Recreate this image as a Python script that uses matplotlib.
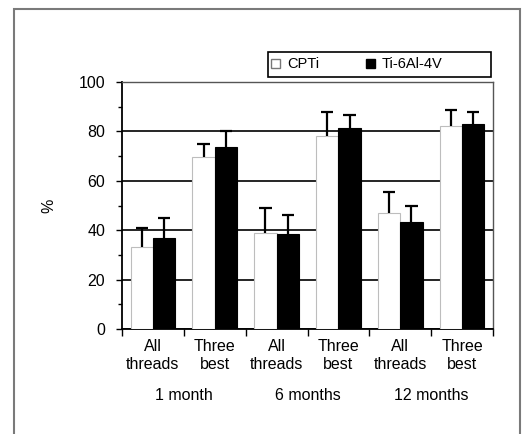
import numpy as np
import matplotlib
matplotlib.use("Agg")
import matplotlib.pyplot as plt
from matplotlib.patches import Rectangle, Patch

plt.rcParams['font.family'] = ['Liberation Sans', 'DejaVu Sans']

# data
categories = ["All\nthreads", "Three\nbest", "All\nthreads", "Three\nbest", "All\nthreads", "Three\nbest"]
periods = ["1 month", "6 months", "12 months"]
cpti = [33, 69.5, 39, 78, 47, 82]
cpti_err = [8, 5.5, 10, 10, 8.5, 6.5]
ti64 = [37, 73.5, 38.5, 81.5, 43.5, 83]
ti64_err = [8, 6.5, 7.5, 5, 6.5, 5]

fs = 11.5

fig = plt.figure(figsize=(5.29, 4.34), dpi=100)

# grey frame around the picture
fig.patches.append(Rectangle((14 / 529, -0.02), (520 - 14) / 529, 1 - 9 / 434 + 0.02,
                             transform=fig.transFigure, fill=False,
                             edgecolor="#7a7a7a", linewidth=1.5))

ax = fig.add_axes([122 / 529, 1 - 329 / 434, (493 - 122) / 529, (329 - 82) / 434])

x = np.arange(len(categories))
w = 0.36
ax.bar(x - w / 2, cpti, w, color="white", edgecolor="#bdbdbd", linewidth=0.8, zorder=3)
ax.bar(x + w / 2, ti64, w, color="black", edgecolor="black", linewidth=0.8, zorder=3)

# upper-only error bars with a cap
cap = 0.1
for xs, vals, errs in [(x - w / 2, cpti, cpti_err), (x + w / 2, ti64, ti64_err)]:
    tops = np.array(vals) + np.array(errs)
    ax.vlines(xs, vals, tops, color="black", linewidth=1.6, zorder=4)
    ax.hlines(tops, xs - cap, xs + cap, color="black", linewidth=1.6, zorder=4)

ax.set_xlim(-0.5, len(categories) - 0.5)
ax.set_ylim(0, 100)
ax.set_yticks([0, 20, 40, 60, 80, 100])
ax.set_yticks(np.arange(10, 100, 20), minor=True)
ax.yaxis.grid(True, color="black", linewidth=1.2, zorder=0)
ax.set_axisbelow(True)

ax.set_xticks(x)
ax.set_xticklabels(categories, fontsize=fs, linespacing=1.3)
ax.tick_params(axis="x", which="major", length=0, pad=7)
ax.set_xticks(np.arange(-0.5, len(categories), 1), minor=True)
ax.tick_params(axis="x", which="minor", length=5, width=1, direction="out")
ax.tick_params(axis="y", which="major", labelsize=fs, length=4, width=1, pad=8)
ax.tick_params(axis="y", which="minor", length=3, width=1)

for s in ["left", "bottom"]:
    ax.spines[s].set_linewidth(1.3)
for s in ["top", "right"]:
    ax.spines[s].set_linewidth(1.0)
    ax.spines[s].set_color("#555555")

for i, p in enumerate(periods):
    ax.text(2 * i + 0.5, -0.27, p, transform=ax.get_xaxis_transform(),
            ha="center", va="center", fontsize=fs)

ax.set_ylabel("%", fontsize=fs, labelpad=16)

# legend box
fig.patches.append(Rectangle((268 / 529, 1 - 77 / 434), (491 - 268) / 529, 25 / 434,
                             transform=fig.transFigure, facecolor="white",
                             edgecolor="black", linewidth=1.2))
handles = [Patch(facecolor="white", edgecolor="#777777", label="CPTi"),
           Patch(facecolor="black", edgecolor="black", label="Ti-6Al-4V")]
fig.legend(handles=handles, ncol=2, loc="center left",
           bbox_to_anchor=(268 / 529, 1 - 64.5 / 434),
           fontsize=10.5, frameon=False,
           handlelength=0.6, handleheight=0.6, handletextpad=0.5,
           borderpad=0.2, columnspacing=3.2, borderaxespad=0)

fig.savefig("out.png", dpi=100)
